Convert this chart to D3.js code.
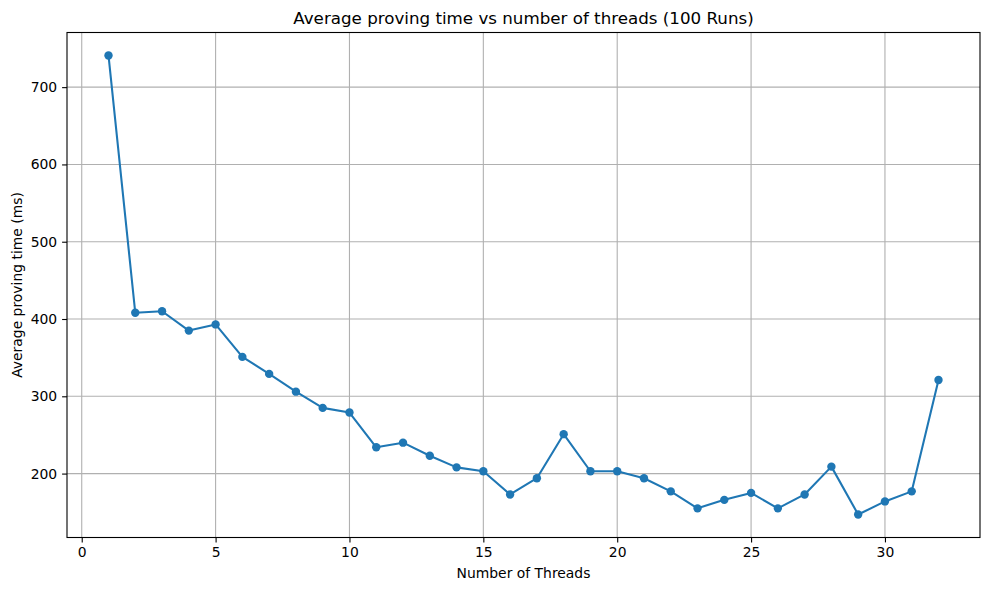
<!DOCTYPE html>
<html>
<head>
<meta charset="utf-8">
<script src="https://cdn.jsdelivr.net/npm/d3@7"></script>
<style>
  body { margin: 0; background: #fff; }
  svg { display: block; font-family: "DejaVu Sans", sans-serif; }
</style>
</head>
<body>
<svg id="chart" width="989" height="590"></svg>
<script>
const threads = [1,2,3,4,5,6,7,8,9,10,11,12,13,14,15,16,17,18,19,20,21,22,23,24,25,26,27,28,29,30,31,32];
const avgTime = [741,408,410,385,393,351,329,306,285,279,234,240,223,208,203,173,194,251,203,203,194,177,155,166,175,155,173,209,147,164,177,321];
const xTicks = [0,5,10,15,20,25,30];
const yTicks = [200,300,400,500,600,700];
const titleText = "Average proving time vs number of threads (100 Runs)";
const xLabel = "Number of Threads";
const yLabel = "Average proving time (ms)";

const svg = d3.select("#chart");
const L = 67, R = 980, T = 32.5, B = 537.5;
const color = "#1f77b4";

const xmin = d3.min(threads), xmax = d3.max(threads);
const xpad = (xmax - xmin) * 0.05;
const ymin = d3.min(avgTime), ymax = d3.max(avgTime);
const ypad = (ymax - ymin) * 0.05;

const x = d3.scaleLinear().domain([xmin - xpad, xmax + xpad]).range([L, R]);
const y = d3.scaleLinear().domain([ymin - ypad, ymax + ypad]).range([B, T]);

// grid
const grid = svg.append("g");
grid.selectAll("line.gx").data(xTicks).join("line")
  .attr("x1", d => x(d)).attr("x2", d => x(d)).attr("y1", T).attr("y2", B)
  .attr("stroke", "#b0b0b0").attr("stroke-width", 1.1);
grid.selectAll("line.gy").data(yTicks).join("line")
  .attr("y1", d => y(d)).attr("y2", d => y(d)).attr("x1", L).attr("x2", R)
  .attr("stroke", "#b0b0b0").attr("stroke-width", 1.1);

// axes
const xAxis = d3.axisBottom(x).tickValues(xTicks).tickSize(4.9).tickPadding(4.9).tickFormat(d3.format("d"));
const yAxis = d3.axisLeft(y).tickValues(yTicks).tickSize(4.9).tickPadding(4.9).tickFormat(d3.format("d"));
const gx = svg.append("g").attr("transform", `translate(0,${B})`).call(xAxis);
const gy = svg.append("g").attr("transform", `translate(${L},0)`).call(yAxis);
[gx, gy].forEach(g => {
  g.select(".domain").remove();
  g.selectAll(".tick line").attr("stroke", "#000").attr("stroke-width", 1.1);
  g.selectAll(".tick text").attr("fill", "#000").style("font-size", "13.9px").style("font-family", "'DejaVu Sans', sans-serif");
});

// line
const line = d3.line().x((d, i) => x(threads[i])).y(d => y(d));
svg.append("path").datum(avgTime)
  .attr("d", line).attr("fill", "none").attr("stroke", color).attr("stroke-width", 2.08)
  .attr("stroke-linejoin", "round");
svg.append("g").selectAll("circle").data(avgTime).join("circle")
  .attr("cx", (d, i) => x(threads[i])).attr("cy", d => y(d)).attr("r", 4.2).attr("fill", color);

// spines
svg.append("rect").attr("x", L).attr("y", T).attr("width", R - L).attr("height", B - T)
  .attr("fill", "none").attr("stroke", "#000").attr("stroke-width", 1.1);

// title and labels
svg.append("text").attr("x", (L + R) / 2).attr("y", 24).attr("text-anchor", "middle")
  .style("font-size", "16.7px").attr("fill", "#000").text(titleText);
svg.append("text").attr("x", (L + R) / 2).attr("y", 578).attr("text-anchor", "middle")
  .style("font-size", "13.9px").attr("fill", "#000").text(xLabel);
svg.append("text").attr("transform", `translate(22,${(T + B) / 2}) rotate(-90)`).attr("text-anchor", "middle")
  .style("font-size", "13.9px").attr("fill", "#000").text(yLabel);
</script>
</body>
</html>
